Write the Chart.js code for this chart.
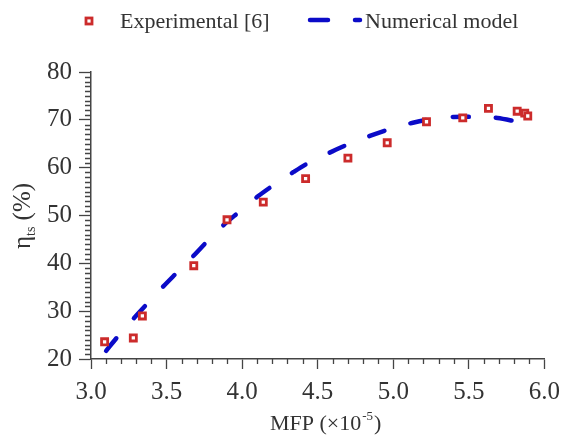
<!DOCTYPE html>
<html>
<head>
<meta charset="utf-8">
<script src="https://cdn.jsdelivr.net/npm/chart.js@4.4.1/dist/chart.umd.min.js"></script>
<style>
  html, body { margin: 0; padding: 0; background: #ffffff; overflow: hidden; }
  #wrap { width: 568px; height: 435px; }
</style>
</head>
<body>
<div id="wrap"><canvas id="c" width="568" height="435"></canvas></div>
<script>
// ---- data ----
const expX = [3.09, 3.28, 3.34, 3.68, 3.90, 4.14, 4.42, 4.70, 4.96, 5.22, 5.46, 5.63, 5.82, 5.87, 5.89];
const expY = [23.6, 24.4, 29.0, 39.5, 49.1, 52.8, 57.7, 62.0, 65.2, 69.6, 70.4, 72.4, 71.8, 71.4, 70.8];
const modelX = [3.10, 3.18, 3.28, 3.37, 3.47, 3.56, 3.67, 3.76, 3.87, 3.97, 4.10, 4.21, 4.34, 4.45, 4.59, 4.71, 4.85, 4.98, 5.13, 5.26, 5.40, 5.54, 5.69, 5.82];
const modelY = [21.7, 24.8, 28.4, 31.5, 34.9, 37.8, 41.3, 44.3, 47.8, 50.5, 53.9, 56.4, 59.1, 61.2, 63.3, 65.0, 66.7, 68.1, 69.4, 70.2, 70.6, 70.6, 70.4, 69.6];
const xTicks = [3.0, 3.5, 4.0, 4.5, 5.0, 5.5, 6.0];
const yTicks = [20, 30, 40, 50, 60, 70, 80];
const seriesNames = ['Experimental [6]', 'Numerical model'];

const FONT = '"Liberation Serif", "Times New Roman", serif';
const TEXT = '#333333';
const AXIS = '#444444';
const RED = '#cc2b2b';
const BLUE = '#0b0bc8';

const minorTicks = {
  id: 'minorTicks',
  afterDraw(chart) {
    const ctx = chart.ctx, x = chart.scales.x, y = chart.scales.y;
    ctx.save();
    ctx.strokeStyle = AXIS; ctx.lineWidth = 1.3;
    ctx.beginPath();
    for (let i = 30; i <= 60; i++) {
      if (i % 5 === 0) continue;
      const px = Math.round(x.getPixelForValue(i / 10)) + 0.5;
      ctx.moveTo(px, y.bottom); ctx.lineTo(px, y.bottom + 5);
    }
    for (let v = 20; v <= 80; v++) {
      if (v % 10 === 0) continue;
      const py = Math.round(y.getPixelForValue(v)) + 0.5;
      ctx.moveTo(x.left, py); ctx.lineTo(x.left - 6, py);
    }
    ctx.stroke();
    ctx.restore();
  }
};

const titlesAndLegend = {
  id: 'titlesAndLegend',
  afterDraw(chart) {
    const ctx = chart.ctx;
    const area = chart.chartArea;
    ctx.save();
    ctx.fillStyle = TEXT;
    ctx.textBaseline = 'alphabetic';
    // x title with superscript
    const big = '22px ' + FONT, small = '13px ' + FONT;
    ctx.font = big; const a = 'MFP (\u00d710'; const wa = ctx.measureText(a).width;
    ctx.font = small; const s = '-5'; const ws = ctx.measureText(s).width;
    ctx.font = big; const c = ')'; const wc = ctx.measureText(c).width;
    const cx = (area.left + area.right) / 2 + 7;
    let x0 = cx - (wa + ws + wc) / 2;
    const by = 430;
    ctx.font = big; ctx.fillText(a, x0, by);
    ctx.font = small; ctx.fillText(s, x0 + wa + 1, by - 10);
    ctx.font = big; ctx.fillText(c, x0 + wa + ws + 2, by);
    // y title rotated, with subscript
    ctx.save();
    ctx.translate(30, 216);
    ctx.rotate(-Math.PI / 2);
    const yb = '25px ' + FONT, ys = '14px ' + FONT;
    ctx.font = yb; const e = '\u03b7'; const we = ctx.measureText(e).width;
    ctx.font = ys; const sub = 'ts'; const wsub = ctx.measureText(sub).width;
    ctx.font = yb; const p = ' (%)'; const wp = ctx.measureText(p).width;
    let t0 = -(we + wsub + wp) / 2;
    ctx.font = yb; ctx.fillText(e, t0, 0);
    ctx.font = ys; ctx.fillText(sub, t0 + we, 5);
    ctx.font = yb; ctx.fillText(p, t0 + we + wsub, 0);
    ctx.restore();
    // legend
    ctx.font = '22px ' + FONT;
    ctx.textBaseline = 'middle';
    ctx.fillStyle = '#ffffff'; ctx.strokeStyle = RED; ctx.lineWidth = 2.8;
    ctx.fillRect(86, 18, 6, 6); ctx.strokeRect(86, 18, 6, 6);
    ctx.fillStyle = TEXT;
    ctx.fillText(seriesNames[0], 120, 22);
    ctx.strokeStyle = BLUE; ctx.lineWidth = 4.5; ctx.lineCap = 'round';
    ctx.beginPath();
    ctx.moveTo(310, 20); ctx.lineTo(328, 20);
    ctx.moveTo(355, 20); ctx.lineTo(360, 20);
    ctx.stroke();
    ctx.fillText(seriesNames[1], 365, 22);
    ctx.restore();
  }
};

new Chart(document.getElementById('c'), {
  type: 'scatter',
  data: {
    datasets: [
      {
        label: seriesNames[1],
        data: modelX.map((v, i) => ({ x: v, y: modelY[i] })),
        showLine: true,
        borderColor: BLUE,
        borderWidth: 4.5,
        borderDash: [16, 27],
        borderCapStyle: 'round',
        tension: 0.3,
        pointRadius: 0,
        fill: false,
        order: 2
      },
      {
        label: seriesNames[0],
        data: expX.map((v, i) => ({ x: v, y: expY[i] })),
        showLine: false,
        pointStyle: 'rect',
        pointRadius: 4.3,
        pointBorderWidth: 2.8,
        pointBorderColor: RED,
        pointBackgroundColor: '#ffffff',
        borderColor: RED,
        backgroundColor: '#ffffff',
        order: 1
      }
    ]
  },
  options: {
    responsive: false,
    animation: false,
    devicePixelRatio: 1,
    layout: { padding: { top: 72, right: 20, bottom: 0, left: 0 } },
    plugins: { legend: { display: false }, tooltip: { enabled: false }, title: { display: false } },
    scales: {
      x: {
        type: 'linear', min: 3, max: 6,
        afterBuildTicks(scale) { scale.ticks = xTicks.map(v => ({ value: v })); },
        afterFit(scale) { scale.height = 76; },
        ticks: { font: { family: FONT, size: 25 }, color: TEXT, padding: 8, maxRotation: 0,
                 callback: v => Number(v).toFixed(1) },
        grid: { drawOnChartArea: false, drawTicks: true, tickLength: 10, tickColor: AXIS, tickWidth: 1.3 },
        border: { display: true, color: AXIS, width: 1.5 }
      },
      y: {
        type: 'linear', min: 20, max: 80,
        afterBuildTicks(scale) { scale.ticks = yTicks.map(v => ({ value: v })); },
        afterFit(scale) { scale.width = 91; },
        ticks: { font: { family: FONT, size: 25 }, color: TEXT, padding: 7 },
        grid: { drawOnChartArea: false, drawTicks: true, tickLength: 12, tickColor: AXIS, tickWidth: 1.3 },
        border: { display: true, color: AXIS, width: 1.5 }
      }
    }
  },
  plugins: [minorTicks, titlesAndLegend]
});
</script>
</body>
</html>
